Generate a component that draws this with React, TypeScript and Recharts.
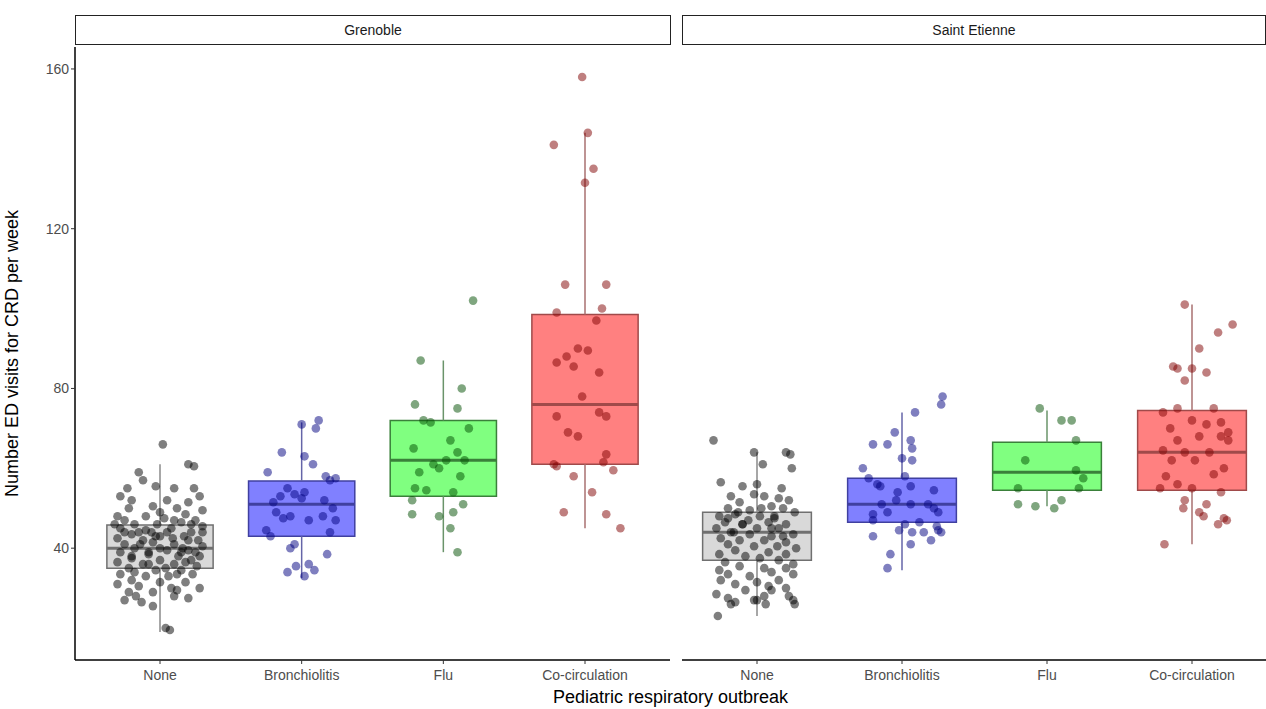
import React from 'react';
import {
  ComposedChart,
  Scatter,
  XAxis,
  YAxis,
  ReferenceArea,
  ReferenceLine,
} from 'recharts';

const categories = ['None', 'Bronchiolitis', 'Flu', 'Co-circulation'];
const yTicks = [40, 80, 120, 160];

// box stats per panel: [lowerWhisker, q1, median, q3, upperWhisker]
const grenobleBoxes = [
  [19, 35, 40, 45.8, 61],
  [32.5, 43, 51, 56.8, 71.5],
  [39, 53, 62, 72, 87],
  [45, 61, 76, 98.5, 144],
];
const stEtienneBoxes = [
  [23, 37, 44, 49, 64],
  [34.5, 46.5, 51, 57.5, 74],
  [50.5, 54.5, 59, 66.5, 74.5],
  [41, 54.5, 64, 74.5, 101],
];

// jittered points: [x offset, value]
const grenobleNone = [
  [0.02, 66], [0.2, 61], [0.24, 60.5], [-0.15, 59], [-0.12, 57], [-0.23, 55], [-0.03, 55.5],
  [0.1, 55], [0.24, 55], [-0.28, 53], [-0.2, 52], [0.05, 52], [0.28, 53], [0.2, 51.5],
  [-0.22, 50], [-0.05, 50.5], [0.12, 50], [0.3, 49.5], [-0.3, 48], [-0.1, 48], [0.18, 48.5],
  [-0.25, 47], [0.03, 47.5], [0.25, 47], [-0.18, 46], [-0.02, 46], [0.15, 46.5], [0.3, 45.5],
  [-0.28, 45], [-0.1, 44.5], [0.08, 45], [0.22, 44], [-0.2, 43.5], [0.0, 43], [0.17, 43],
  [-0.3, 42.5], [-0.12, 42], [0.27, 42], [-0.25, 41], [-0.05, 41.5], [0.1, 41], [0.3, 40.5],
  [-0.18, 40], [0.05, 39.5], [0.2, 39.5], [-0.28, 39], [-0.08, 38.5], [0.13, 38], [0.28, 38],
  [-0.2, 37.5], [0.0, 37], [0.22, 37], [-0.3, 36.5], [-0.12, 36], [0.1, 36], [0.26, 35.5],
  [-0.22, 35], [-0.03, 34.5], [0.15, 34.5], [-0.28, 33.5], [-0.1, 33], [0.06, 33], [0.23, 33.5],
  [-0.2, 32], [0.0, 31.5], [0.18, 31.5], [-0.3, 31], [-0.15, 30.5], [0.08, 30], [0.28, 30],
  [-0.22, 29], [-0.05, 29], [0.12, 29.5], [-0.17, 28], [0.1, 28], [0.2, 27.5], [-0.25, 27],
  [-0.13, 26.5], [-0.05, 25.5], [0.04, 20], [0.07, 19.5], [0.3, 44], [-0.32, 46], [0.2, 42],
  [-0.15, 44], [0.05, 44], [-0.08, 39], [0.15, 39], [-0.18, 34], [0.22, 46], [0.0, 49], [0.12, 33.5],
  [-0.06, 44], [-0.14, 41], [0.0, 40], [0.09, 42.5], [-0.2, 38], [0.18, 36.5], [-0.08, 36],
  [0.04, 35], [0.1, 47], [-0.03, 43], [0.16, 40], [-0.25, 44], [0.25, 39],
];
const grenobleBronch = [
  [0.0, 71], [0.12, 72], [0.1, 70], [-0.14, 64], [0.02, 63], [0.08, 61], [-0.24, 59],
  [0.17, 58], [0.24, 57.5], [0.2, 57], [-0.1, 55], [0.02, 54], [-0.15, 53], [0.16, 52],
  [-0.05, 53.5], [0.0, 52.5], [-0.2, 51.5], [0.22, 50], [-0.18, 49], [-0.08, 48], [-0.13, 47.5],
  [0.15, 48], [0.05, 47], [0.24, 47], [-0.25, 44.5], [0.2, 44], [-0.22, 43], [-0.05, 41],
  [-0.08, 40], [0.18, 38.5], [-0.04, 35.5], [0.05, 36], [-0.1, 34], [0.09, 34.5], [0.02, 33],
];
const grenobleFlu = [
  [0.21, 102], [-0.16, 87], [0.13, 80], [-0.2, 76], [0.1, 75], [-0.14, 72], [-0.09, 71.5],
  [0.18, 70], [0.05, 67], [-0.21, 65], [0.1, 64], [0.15, 62], [0.02, 62], [-0.07, 61],
  [-0.03, 60], [-0.17, 59], [0.12, 58], [-0.2, 55], [-0.12, 54.5], [0.07, 54], [-0.22, 52],
  [0.14, 51], [0.07, 49], [-0.22, 48.5], [-0.03, 48], [0.05, 45], [0.1, 39],
];
const grenobleCo = [
  [-0.02, 158], [0.02, 144], [-0.22, 141], [0.06, 135], [0.0, 131.5], [-0.14, 106],
  [0.15, 106], [0.12, 100], [-0.2, 99], [0.08, 97], [-0.05, 90], [0.02, 89.5], [-0.13, 88],
  [-0.2, 86.5], [-0.08, 85.5], [0.1, 84], [-0.02, 78], [0.1, 74], [0.15, 73], [-0.2, 73],
  [-0.12, 69], [-0.05, 68], [0.15, 63.5], [0.13, 61.5], [-0.22, 61], [-0.2, 60.5], [0.2, 59.5],
  [-0.08, 58], [0.05, 54], [-0.15, 49], [0.15, 48.5], [0.25, 45],
];
const stNone = [
  [-0.3, 67], [-0.02, 64], [0.2, 64], [0.23, 63.5], [0.24, 60], [0.04, 61], [-0.25, 56.5],
  [-0.1, 55.5], [0.0, 56], [0.17, 55], [-0.02, 53.5], [-0.18, 53], [0.05, 53], [0.15, 52.5],
  [0.22, 52], [-0.12, 51.5], [-0.2, 50], [0.1, 50.5], [-0.05, 49.5], [0.18, 50], [0.26, 49],
  [-0.26, 48], [-0.15, 48.5], [0.02, 48], [0.12, 47.5], [-0.22, 46.5], [-0.1, 46], [0.08, 46.5],
  [0.2, 46], [-0.28, 45], [0.0, 45], [0.15, 45], [-0.18, 44], [-0.05, 43.5], [0.25, 43.5],
  [0.1, 43], [-0.25, 42.5], [-0.12, 42], [0.05, 42], [0.2, 41.5], [-0.2, 41], [-0.02, 40.5],
  [0.14, 40.5], [0.27, 40], [-0.15, 39.5], [0.08, 39], [-0.26, 38.5], [0.2, 38.5], [-0.08, 38],
  [0.02, 37.5], [0.15, 37], [-0.22, 36.5], [0.25, 36], [-0.12, 35.5], [0.05, 35], [-0.26, 34.5],
  [0.2, 35], [-0.2, 33.5], [0.1, 34], [-0.05, 33], [0.25, 33.5], [-0.25, 32], [0.15, 32],
  [0.0, 31.5], [-0.15, 31], [0.08, 30.5], [0.2, 30], [-0.08, 29.5], [0.1, 29.5], [-0.28, 28.5],
  [0.05, 28], [0.22, 28], [-0.2, 27.5], [0.0, 27], [0.25, 27], [-0.18, 26], [-0.15, 26.5],
  [-0.02, 27], [0.06, 26], [0.26, 26], [-0.27, 23], [-0.1, 46], [0.12, 48], [-0.16, 44],
  [-0.06, 47], [0.03, 50], [-0.13, 49], [0.1, 45], [-0.2, 47.5], [0.18, 43],
];
const stBronch = [
  [0.28, 78], [0.27, 76], [0.09, 74], [-0.05, 69], [0.06, 67], [-0.2, 66], [-0.1, 66],
  [0.07, 65], [0.0, 62.5], [0.07, 62], [-0.27, 60], [0.02, 58], [-0.23, 57.5], [-0.17, 56],
  [-0.15, 55.5], [0.06, 55.5], [0.22, 54.5], [-0.03, 54], [-0.14, 51], [-0.04, 52], [0.06, 51],
  [0.18, 51], [0.22, 50], [0.25, 49], [-0.1, 49], [-0.2, 48.5], [-0.2, 47], [0.02, 46],
  [0.12, 46.5], [0.24, 45.5], [-0.02, 44.5], [0.07, 44], [0.15, 44], [0.25, 44.5], [0.27, 44],
  [-0.2, 43], [0.06, 41], [0.2, 42], [-0.08, 38.5], [-0.1, 35],
];
const stFlu = [
  [-0.05, 75], [0.1, 72], [0.17, 72], [0.2, 67], [-0.15, 62], [0.2, 59.5],
  [0.25, 57.5], [-0.2, 55], [0.22, 55], [0.1, 52], [-0.2, 51], [-0.08, 50.5], [0.05, 50],
];
const stCo = [
  [-0.05, 101], [0.28, 96], [0.18, 94], [0.05, 90], [-0.1, 85], [-0.13, 85.5], [0.0, 85],
  [0.1, 84], [-0.05, 82], [-0.1, 75], [0.15, 75], [-0.2, 74], [0.0, 72], [0.2, 71.5],
  [0.1, 71], [-0.15, 70], [0.25, 69], [0.2, 68], [0.05, 68], [-0.1, 67], [0.25, 67],
  [-0.2, 64.5], [-0.05, 64], [0.12, 64], [-0.14, 62], [0.02, 62], [0.22, 60], [0.15, 58.5],
  [-0.18, 58], [-0.1, 56], [-0.22, 55], [0.0, 55], [0.2, 54], [-0.05, 52], [0.1, 51],
  [-0.06, 50], [0.05, 49], [0.08, 48], [0.22, 47.5], [0.18, 46], [0.24, 47], [-0.19, 41],
];

const grenoblePoints = [grenobleNone, grenobleBronch, grenobleFlu, grenobleCo];
const stEtiennePoints = [stNone, stBronch, stFlu, stCo];

const boxFill = ['#d9d9d9', '#8080ff', '#80ff80', '#ff8080'];
const boxStroke = ['#707070', '#4040a0', '#3a803a', '#a04a4a'];
const whiskerStroke = ['#8a8a8a', '#6565a8', '#6a946a', '#a87070'];
const pointFill = ['#000000', '#000080', '#004d00', '#800000'];

const HALF = 0.375;
const YDOMAIN: [number, number] = [12, 165.5];
const FONT = 'Liberation Sans, Arial, sans-serif';

const Panel = ({ boxes, points, showY, width }: { boxes: number[][]; points: number[][][]; showY: boolean; width: number }) => (
  <ComposedChart
    width={width}
    height={709}
    margin={{ top: 47, right: showY ? 2 : 0, bottom: 16, left: 0 }}
  >
    <XAxis
      type="number"
      dataKey="x"
      domain={[0.4, 4.6]}
      ticks={[1, 2, 3, 4]}
      tickFormatter={(v) => categories[v - 1]}
      tick={{ fontSize: 14, fill: '#4d4d4d', fontFamily: FONT }}
      axisLine={{ stroke: '#000', strokeWidth: 1.5 }}
      tickLine={{ stroke: '#333' }}
      tickSize={4}
      tickMargin={6}
      height={33}
      allowDataOverflow
    />
    <YAxis
      type="number"
      dataKey="y"
      domain={YDOMAIN}
      ticks={yTicks}
      hide={!showY}
      width={75}
      tick={{ fontSize: 14, fill: '#4d4d4d', fontFamily: FONT }}
      axisLine={{ stroke: '#000', strokeWidth: 1.5 }}
      tickLine={{ stroke: '#333' }}
      tickSize={4}
      allowDataOverflow
      label={{
        value: 'Number ED visits for CRD per week',
        angle: -90,
        position: 'insideLeft',
        offset: 12,
        style: { fontSize: 18, fill: '#000', textAnchor: 'middle', fontFamily: FONT },
      }}
    />
    {boxes.map((b, i) => (
      <ReferenceLine
        key={`wl${i}`}
        segment={[{ x: i + 1, y: b[0] }, { x: i + 1, y: b[1] }]}
        stroke={whiskerStroke[i]}
        strokeWidth={1.5}
      />
    ))}
    {boxes.map((b, i) => (
      <ReferenceLine
        key={`wu${i}`}
        segment={[{ x: i + 1, y: b[3] }, { x: i + 1, y: b[4] }]}
        stroke={whiskerStroke[i]}
        strokeWidth={1.5}
      />
    ))}
    {boxes.map((b, i) => (
      <ReferenceArea
        key={`box${i}`}
        x1={i + 1 - HALF}
        x2={i + 1 + HALF}
        y1={b[1]}
        y2={b[3]}
        fill={boxFill[i]}
        fillOpacity={1}
        stroke={boxStroke[i]}
        strokeWidth={1.5}
      />
    ))}
    {boxes.map((b, i) => (
      <ReferenceLine
        key={`med${i}`}
        segment={[{ x: i + 1 - HALF, y: b[2] }, { x: i + 1 + HALF, y: b[2] }]}
        stroke={boxStroke[i]}
        strokeWidth={3}
      />
    ))}
    {points.map((pts, i) => (
      <Scatter
        key={`pts${i}`}
        data={pts.map(([dx, y]) => ({ x: i + 1 + dx, y }))}
        fill={pointFill[i]}
        fillOpacity={0.5}
        isAnimationActive={false}
        shape={(p: any) => <circle cx={p.cx} cy={p.cy} r={4.3} fill={pointFill[i]} fillOpacity={0.5} />}
      />
    ))}
  </ComposedChart>
);

const stripStyle: React.CSSProperties = {
  position: 'absolute',
  top: 15,
  height: 30,
  border: '1.5px solid #222',
  boxSizing: 'border-box',
  display: 'flex',
  alignItems: 'center',
  justifyContent: 'center',
  fontSize: 14,
  color: '#1a1a1a',
  fontFamily: FONT,
  background: '#fff',
};

export default function App() {
  return (
    <div style={{ position: 'absolute', left: 0, top: 0, width: 1266, height: 709, background: '#fff', overflow: 'hidden' }}>
      <div style={{ position: 'absolute', left: 0, top: 0 }}>
        <Panel boxes={grenobleBoxes} points={grenoblePoints} showY width={672} />
      </div>
      <div style={{ position: 'absolute', left: 682, top: 0, width: 584, height: 709, overflow: 'hidden' }}>
        <div style={{ position: 'absolute', left: -12, top: 0 }}>
          <Panel boxes={stEtienneBoxes} points={stEtiennePoints} showY={false} width={609} />
        </div>
      </div>
      <div style={{ ...stripStyle, left: 75, width: 596 }}>Grenoble</div>
      <div style={{ ...stripStyle, left: 682, width: 584 }}>Saint Etienne</div>
      <div
        style={{
          position: 'absolute',
          left: 75,
          width: 1191,
          top: 686,
          textAlign: 'center',
          fontSize: 18,
          color: '#000',
          fontFamily: FONT,
          lineHeight: '22px',
        }}
      >
        Pediatric respiratory outbreak
      </div>
    </div>
  );
}
